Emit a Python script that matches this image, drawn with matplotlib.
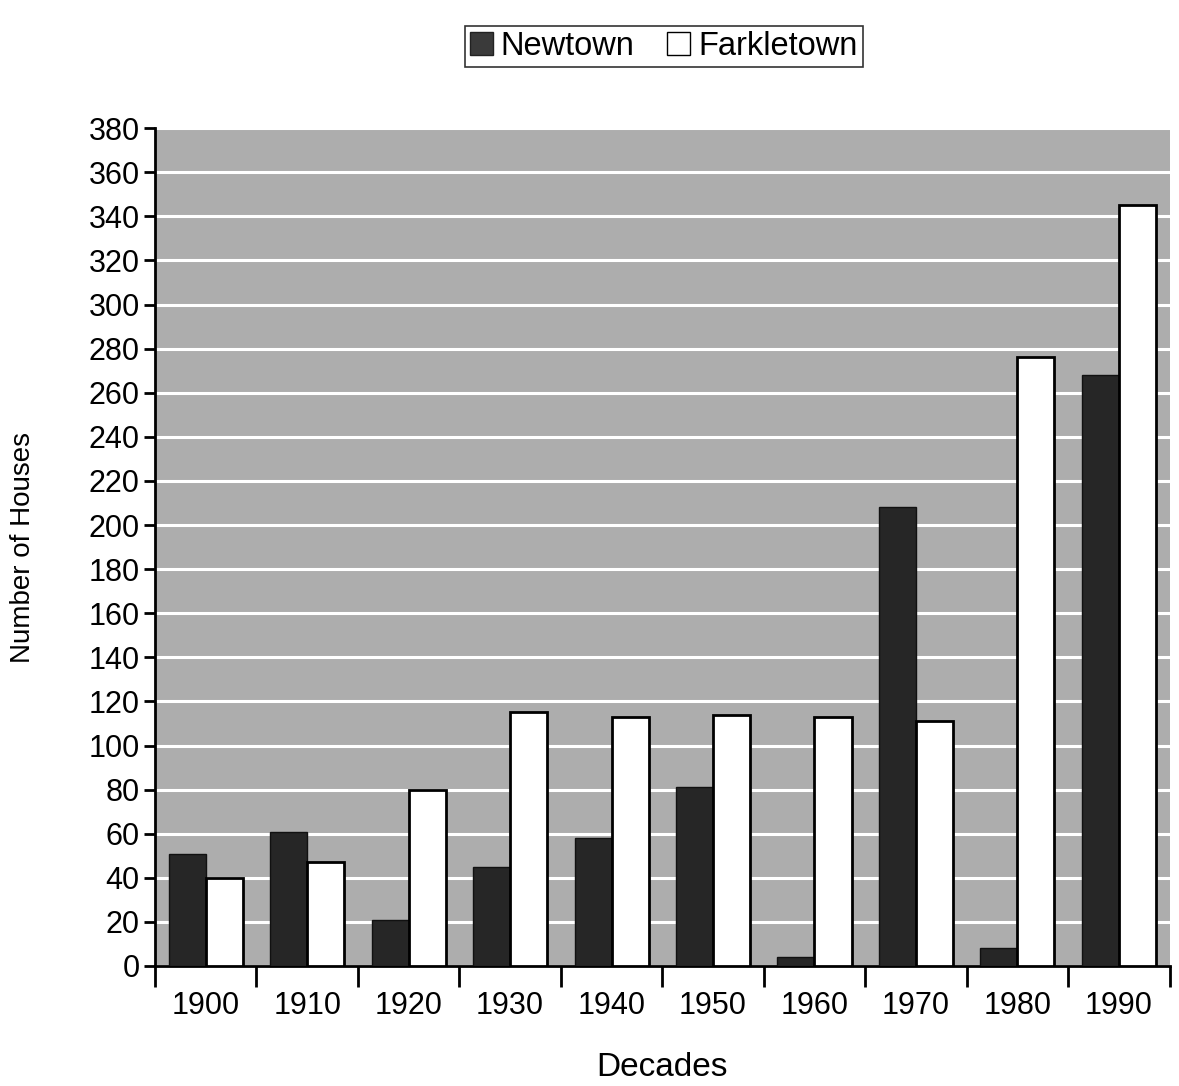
import matplotlib
matplotlib.use("Agg")
import matplotlib.pyplot as plt
import numpy as np
from matplotlib.patches import Patch

plt.rcParams['font.family'] = ['Liberation Sans', 'DejaVu Sans']

decades = ['1900', '1910', '1920', '1930', '1940', '1950', '1960', '1970', '1980', '1990']
newtown = [51, 61, 21, 45, 58, 81, 4, 208, 8, 268]
farkletown = [40, 47, 80, 115, 113, 114, 113, 111, 276, 345]
yticks = list(range(0, 381, 20))

fig = plt.figure(figsize=(11.79, 10.86), dpi=100)
ax = fig.add_axes([0.1315, 0.1105, 0.8605, 0.7715])
ax.set_facecolor('#adadad')

x = np.arange(len(decades))
w = 0.365
ax.bar(x - w/2, newtown, width=w, color='#262626', edgecolor='#111111', linewidth=1.0, zorder=3, label='Newtown')
ax.bar(x + w/2, farkletown, width=w, color='white', edgecolor='black', linewidth=2.0, zorder=3, label='Farkletown')

ax.set_xlim(-0.5, len(decades) - 0.5)
ax.set_ylim(0, 380)
ax.set_yticks(yticks)
ax.set_yticklabels([str(v) for v in yticks], fontsize=22)
ax.yaxis.grid(True, color='white', linewidth=2.2, zorder=1)
ax.set_axisbelow(True)

ax.set_xticks(x)
ax.set_xticklabels(decades, fontsize=22)
ax.set_xticks(np.arange(-0.5, len(decades)), minor=True)
ax.tick_params(axis='x', which='major', length=0, pad=18)
ax.tick_params(axis='x', which='minor', length=15, width=2, direction='out', color='black')
ax.tick_params(axis='y', which='major', length=8, width=2, direction='out', pad=3)

for s in ['top', 'right']:
    ax.spines[s].set_visible(False)
for s in ['left', 'bottom']:
    ax.spines[s].set_linewidth(2)
    ax.spines[s].set_color('black')

ax.set_xlabel('Decades', fontsize=24, labelpad=22)
ax.set_ylabel('Number of Houses', fontsize=20, labelpad=38)

handles = [Patch(facecolor='#3a3a3a', edgecolor='#222222', label='Newtown'),
           Patch(facecolor='white', edgecolor='black', label='Farkletown')]
leg = fig.legend(handles=handles, loc='upper center', bbox_to_anchor=(0.563, 0.976), ncol=2,
                 fontsize=23.5, frameon=True, fancybox=False, edgecolor='black',
                 handlelength=0.7, handleheight=0.7, handletextpad=0.25, columnspacing=1.0,
                 borderpad=0.15, borderaxespad=0.0)
leg.get_frame().set_linewidth(1.2)

fig.savefig('out.png', dpi=100)
